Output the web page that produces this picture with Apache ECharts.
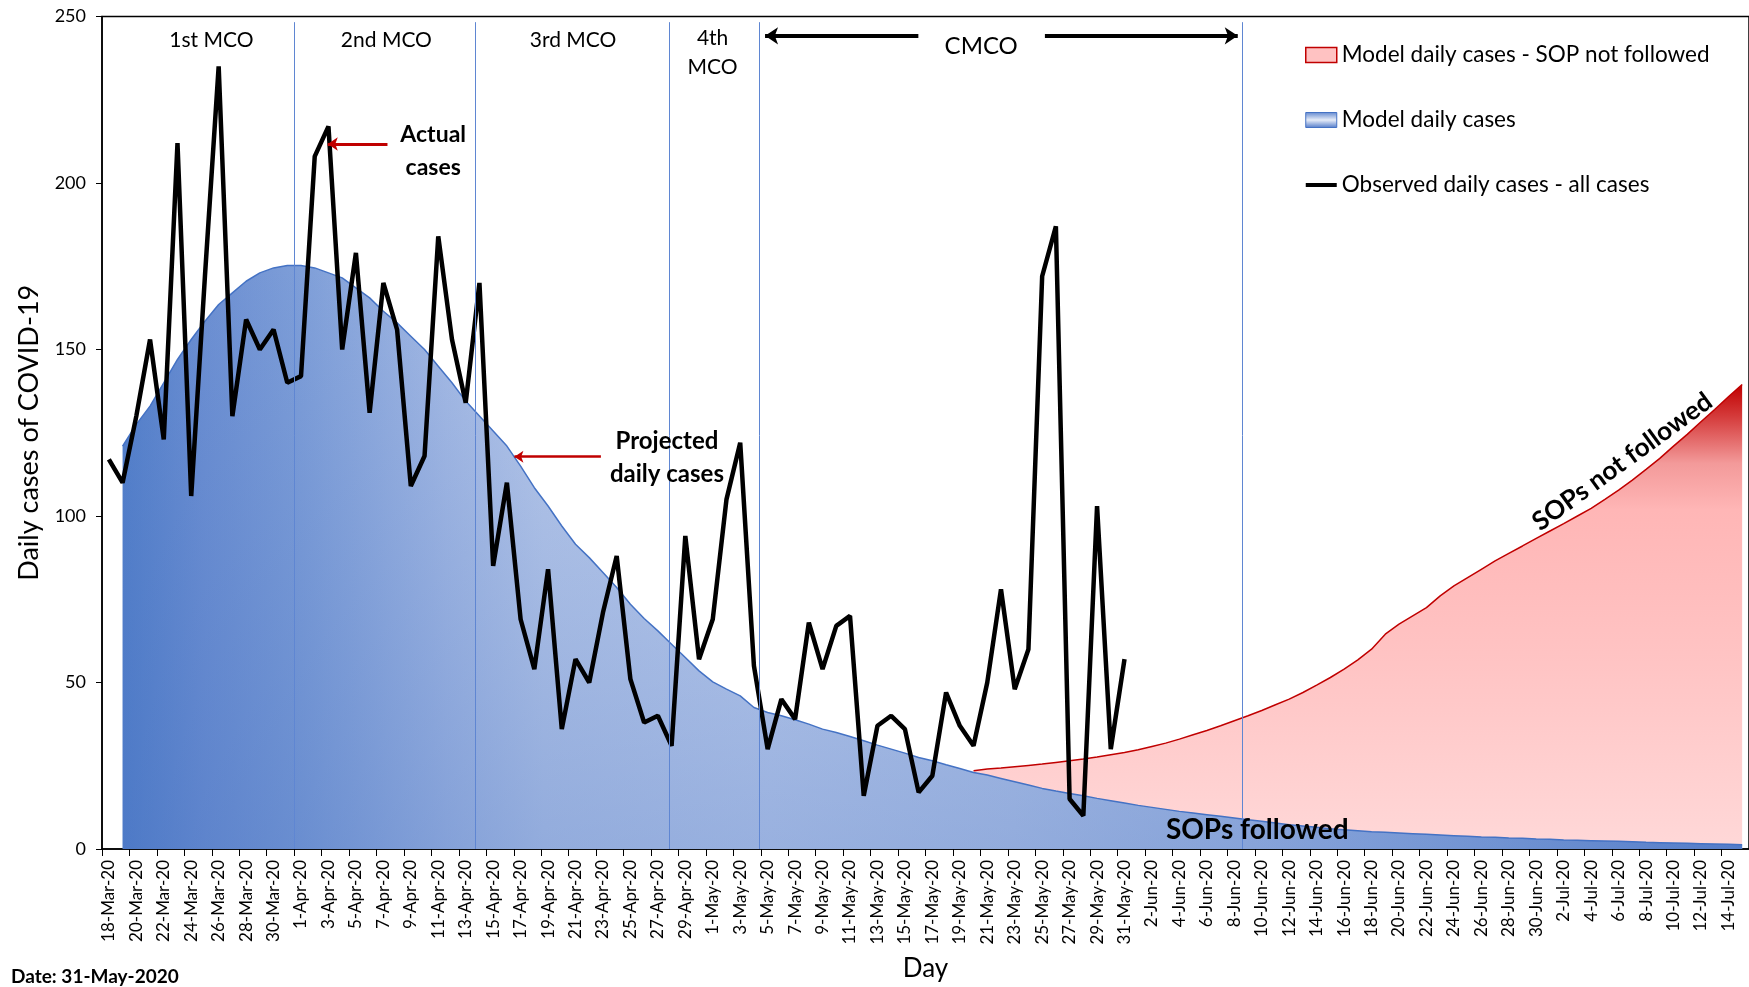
<!DOCTYPE html>
<html>
<head>
<meta charset="utf-8">
<title>Daily cases of COVID-19</title>
<script src="https://cdn.jsdelivr.net/npm/echarts@6/dist/echarts.min.js"></script>
<style>
    html, body { margin: 0; padding: 0; background: #fff; }
    #chart { width: 1749px; height: 987px; }
</style>
</head>
<body>
<div id="chart"></div>
<script>
// one category per day
var days = [
    '18-Mar-20', '19-Mar-20', '20-Mar-20', '21-Mar-20', '22-Mar-20', '23-Mar-20', '24-Mar-20', '25-Mar-20', '26-Mar-20', '27-Mar-20',
    '28-Mar-20', '29-Mar-20', '30-Mar-20', '31-Mar-20',
    '1-Apr-20', '2-Apr-20', '3-Apr-20', '4-Apr-20', '5-Apr-20', '6-Apr-20', '7-Apr-20', '8-Apr-20', '9-Apr-20', '10-Apr-20',
    '11-Apr-20', '12-Apr-20', '13-Apr-20', '14-Apr-20', '15-Apr-20', '16-Apr-20', '17-Apr-20', '18-Apr-20', '19-Apr-20', '20-Apr-20',
    '21-Apr-20', '22-Apr-20', '23-Apr-20', '24-Apr-20', '25-Apr-20', '26-Apr-20', '27-Apr-20', '28-Apr-20', '29-Apr-20', '30-Apr-20',
    '1-May-20', '2-May-20', '3-May-20', '4-May-20', '5-May-20', '6-May-20', '7-May-20', '8-May-20', '9-May-20', '10-May-20',
    '11-May-20', '12-May-20', '13-May-20', '14-May-20', '15-May-20', '16-May-20', '17-May-20', '18-May-20', '19-May-20', '20-May-20',
    '21-May-20', '22-May-20', '23-May-20', '24-May-20', '25-May-20', '26-May-20', '27-May-20', '28-May-20', '29-May-20', '30-May-20',
    '31-May-20',
    '1-Jun-20', '2-Jun-20', '3-Jun-20', '4-Jun-20', '5-Jun-20', '6-Jun-20', '7-Jun-20', '8-Jun-20', '9-Jun-20', '10-Jun-20',
    '11-Jun-20', '12-Jun-20', '13-Jun-20', '14-Jun-20', '15-Jun-20', '16-Jun-20', '17-Jun-20', '18-Jun-20', '19-Jun-20', '20-Jun-20',
    '21-Jun-20', '22-Jun-20', '23-Jun-20', '24-Jun-20', '25-Jun-20', '26-Jun-20', '27-Jun-20', '28-Jun-20', '29-Jun-20', '30-Jun-20',
    '1-Jul-20', '2-Jul-20', '3-Jul-20', '4-Jul-20', '5-Jul-20', '6-Jul-20', '7-Jul-20', '8-Jul-20', '9-Jul-20', '10-Jul-20',
    '11-Jul-20', '12-Jul-20', '13-Jul-20', '14-Jul-20', '15-Jul-20'
];

// observed daily cases, from 18-Mar-20
var observed = [
    117, 110, 130, 153, 123, 212, 106, 172, 235, 130, 159, 150, 156, 140,
    142, 208, 217, 150, 179, 131, 170, 156, 109, 118, 184, 153, 134, 170, 85, 110,
    69, 54, 84, 36, 57, 50, 71, 88, 51, 38, 40, 31, 94, 57,
    69, 105, 122, 55, 30, 45, 39, 68, 54, 67, 70, 16, 37, 40, 36, 17,
    22, 47, 37, 31, 50, 78, 48, 60, 172, 187, 15, 10, 103, 30, 57
];

// model daily cases (SOPs followed), from 19-Mar-20
var modelStart = '19-Mar-20';
var modelDaily = [
    121, 127.5, 133, 140, 147, 153, 158.5, 163.5, 167, 170.5,
    173, 174.5, 175.2, 175.2, 174.5, 173, 171.5, 168.5, 165.5, 161.5,
    158, 154, 150, 145, 140, 134.5, 130, 125.5, 121, 115,
    108.5, 103, 97, 91.5, 87.5, 83, 78.5, 73.5, 69.2, 65.5,
    61.5, 57.5, 53.5, 50.2, 48, 46, 42.5, 41, 40, 38.8,
    37.5, 36, 35, 33.8, 32.5, 31.2, 30, 28.8, 27.5, 26.5,
    25.3, 24.2, 23, 22.2, 21.2, 20.2, 19.2, 18.2, 17.4, 16.7,
    16, 15.2, 14.5, 13.8, 13.1, 12.5, 11.9, 11.3, 10.8, 10.3,
    9.8, 9.3, 8.8, 8.3, 7.8, 7.3, 6.9, 6.5, 6.1, 5.8,
    5.5, 5.2, 5.0, 4.8, 4.6, 4.4, 4.2, 4.0, 3.8, 3.6,
    3.5, 3.3, 3.2, 3.0, 2.9, 2.7, 2.6, 2.5, 2.4, 2.3,
    2.2, 2.0, 1.9, 1.8, 1.7, 1.6, 1.5, 1.4, 1.3
];

// model daily cases if SOPs are not followed, from 20-May-20
var notFollowedStart = '20-May-20';
var notFollowedDaily = [
    23.5, 24, 24.3, 24.7, 25.1, 25.5, 26, 26.5, 27, 27.6,
    28.3, 29, 29.8, 30.8, 31.8, 33, 34.3, 35.6, 37, 38.5,
    40, 41.6, 43.3, 45, 47, 49.2, 51.5, 54, 56.8, 60,
    64.5, 67.5, 70, 72.5, 76, 79, 81.5, 84, 86.5, 88.8,
    91, 93.3, 95.5, 97.7, 100, 102.3, 105, 107.8, 110.8, 114,
    117.3, 121, 124.5, 128.3, 132, 135.8, 139.5
];

var yTicks = [0, 50, 100, 150, 200, 250];

// phase boundaries, in days from the left edge of the axis
var phaseBounds = [14.04, 27.22, 41.33, 47.88, 83.07];

var FONT = 'Lato';

function alignTo(start, values) {
    var out = [];
    var i0 = days.indexOf(start);
    for (var i = 0; i < days.length; i++) {
        var k = i - i0;
        out.push(k >= 0 && k < values.length ? values[k] : null);
    }
    return out;
}

var chart = echarts.init(document.getElementById('chart'));

var dayWidth = 13.8;
var blueFill = new echarts.graphic.LinearGradient(0, 0, 1, 0, [
    {offset: 0, color: '#5480CA'},
    {offset: 0.05, color: '#6C8FD2'},
    {offset: 0.11, color: '#7E9ED8'},
    {offset: 0.2, color: '#A5BAE4'},
    {offset: 0.26, color: '#BACAEA'},
    {offset: 0.4, color: '#C3D1EE'},
    {offset: 0.55, color: '#BACAEA'},
    {offset: 0.7, color: '#A9BDE5'},
    {offset: 0.85, color: '#88A5DB'},
    {offset: 1, color: '#5D84CD'}
]);
var blueShade = new echarts.graphic.LinearGradient(0, 0, 0, 1, [
    {offset: 0, color: 'rgba(63,108,192,0)'},
    {offset: 1, color: 'rgba(63,108,192,0.32)'}
]);
var redFill = new echarts.graphic.LinearGradient(0, 0, 0, 1, [
    {offset: 0, color: '#C00000'},
    {offset: 0.07, color: '#D53C3C'},
    {offset: 0.17, color: '#F39A9A'},
    {offset: 0.27, color: '#FFB6B6'},
    {offset: 0.6, color: '#FFC4C4'},
    {offset: 1, color: '#FFD8D8'}
]);

var markLines = phaseBounds.map(function (d) {
    return [
        {coord: [d, 0], symbol: 'none', lineStyle: {color: '#5F86D2', width: 1, type: 'solid'}},
        {coord: [d, 248.3], symbol: 'none'}
    ];
});
// annotation arrows
var arrows = [
    {from: [20.8, 211.7], to: [16.45, 211.7], color: '#C00000', width: 3, head: 10},
    {from: [36.35, 117.8], to: [30.05, 117.8], color: '#C00000', width: 2.5, head: 9},
    {from: [59.48, 244.2], to: [48.31, 244.2], color: '#000', width: 4, head: 13},
    {from: [68.7, 244.2], to: [82.75, 244.2], color: '#000', width: 4, head: 13}
];
arrows.forEach(function (a) {
    markLines.push([
        {coord: a.from, symbol: 'none', lineStyle: {color: a.color, width: a.width, type: 'solid'}},
        {coord: a.to, symbol: 'arrow', symbolSize: a.head}
    ]);
});

var option = {
    animation: false,
    backgroundColor: '#fff',
    textStyle: {fontFamily: FONT, color: '#000'},
    grid: {
        left: 102,
        top: 16.5,
        width: dayWidth * days.length,
        height: 834.5,
        show: true,
        borderColor: '#000',
        borderWidth: 1.5,
        backgroundColor: 'transparent'
    },
    legend: {
        orient: 'vertical',
        left: 1300,
        top: 38.5,
        itemWidth: 31,
        itemHeight: 15,
        itemGap: 42,
        selectedMode: false,
        textStyle: {fontFamily: FONT, fontSize: 22.5, color: '#000'},
        data: [
            {
                name: 'Model daily cases - SOP not followed',
                icon: 'rect',
                itemStyle: {color: '#FFC2C2', borderColor: '#C00000', borderWidth: 1.5}
            },
            {
                name: 'Model daily cases',
                icon: 'rect',
                itemStyle: {
                    color: new echarts.graphic.LinearGradient(0, 0, 0, 1, [
                        {offset: 0, color: '#5F86CE'},
                        {offset: 0.5, color: '#E6ECF8'},
                        {offset: 1, color: '#5079C8'}
                    ]),
                    borderColor: '#4472C4',
                    borderWidth: 1
                }
            },
            {
                name: 'Observed daily cases - all cases',
                icon: 'path://M0,0L31,0L31,4L0,4Z',
                itemStyle: {color: '#000', borderWidth: 0}
            }
        ]
    },
    xAxis: [{
        type: 'category',
        data: days,
        boundaryGap: true,
        name: 'Day',
        nameLocation: 'middle',
        nameGap: 107,
        nameTextStyle: {fontFamily: FONT, fontSize: 26, color: '#000'},
        axisLine: {show: true, lineStyle: {color: '#000', width: 1.5}},
        axisTick: {show: true, interval: 1, length: 7, lineStyle: {color: '#000', width: 1}},
        axisLabel: {
            interval: 1,
            rotate: 90,
            margin: 11,
            hideOverlap: false,
            fontFamily: FONT,
            fontSize: 17,
            color: '#000'
        },
        splitLine: {show: false}
    }, {
        // helper axis for annotations (days from the left edge)
        type: 'value',
        min: 0,
        max: days.length,
        show: false
    }],
    yAxis: {
        type: 'value',
        min: yTicks[0],
        max: yTicks[yTicks.length - 1],
        interval: 50,
        name: 'Daily cases of COVID-19',
        nameLocation: 'middle',
        nameGap: 59,
        nameTextStyle: {fontFamily: FONT, fontSize: 27, color: '#000'},
        axisLine: {show: true, lineStyle: {color: '#000', width: 1.5}},
        axisTick: {show: true, length: 6, lineStyle: {color: '#000', width: 1}},
        axisLabel: {margin: 16, fontFamily: FONT, fontSize: 18, color: '#000'},
        splitLine: {show: false}
    },
    series: [
        {
            name: 'Model daily cases - SOP not followed',
            type: 'line',
            data: alignTo(notFollowedStart, notFollowedDaily),
            symbol: 'none',
            z: 1,
            itemStyle: {color: '#C00000'},
            lineStyle: {color: '#C00000', width: 1.5},
            areaStyle: {color: redFill, opacity: 1}
        },
        {
            name: 'Model daily cases',
            type: 'line',
            data: alignTo(modelStart, modelDaily),
            symbol: 'none',
            z: 2,
            itemStyle: {color: '#4472C4'},
            lineStyle: {color: '#4472C4', width: 1.5},
            areaStyle: {color: blueFill, opacity: 1}
        },
        {
            name: 'shade',
            type: 'line',
            data: alignTo(modelStart, modelDaily),
            symbol: 'none',
            silent: true,
            z: 2,
            lineStyle: {width: 0},
            areaStyle: {color: blueShade, opacity: 1}
        },
        {
            name: 'phases',
            type: 'line',
            xAxisIndex: 1,
            data: [],
            z: 3,
            silent: true,
            markLine: {
                silent: true,
                animation: false,
                symbol: 'none',
                label: {show: false},
                data: markLines
            }
        },
        {
            name: 'Observed daily cases - all cases',
            type: 'line',
            data: observed,
            symbol: 'none',
            z: 4,
            itemStyle: {color: '#000'},
            lineStyle: {color: '#000', width: 4.5}
        }
    ]
};

chart.setOption(option);

// text notes placed in data units of the helper axis
var notes = [
    {text: '1st MCO', at: [7.97, 243], font: '21px ' + FONT},
    {text: '2nd MCO', at: [20.72, 243], font: '21px ' + FONT},
    {text: '3rd MCO', at: [34.32, 243], font: '21px ' + FONT},
    {text: '4th\nMCO', at: [44.49, 239.2], font: '21px ' + FONT, lineHeight: 29},
    {text: 'CMCO', at: [64.06, 241.2], font: '24px ' + FONT},
    {text: 'Actual\ncases', at: [24.13, 209.6], font: 'bold 23px ' + FONT, lineHeight: 33},
    {text: 'Projected\ndaily cases', at: [41.16, 117.6], font: 'bold 24px ' + FONT, lineHeight: 33},
    {text: 'SOPs followed', at: [84.17, 5.7], font: 'bold 28px ' + FONT},
    {text: 'SOPs not followed', at: [110.77, 116.3], font: 'bold 26px ' + FONT, rotate: 36}
];

function drawNotes() {
    var g = [];
    notes.forEach(function (n) {
        var x = chart.convertToPixel({xAxisIndex: 1}, n.at[0]);
        var y = chart.convertToPixel({yAxisIndex: 0}, n.at[1]);
        g.push({
            type: 'text',
            x: x,
            y: y,
            rotation: (n.rotate || 0) * Math.PI / 180,
            z: 50,
            silent: true,
            style: {
                text: n.text,
                font: n.font,
                fill: '#000',
                align: 'center',
                verticalAlign: 'middle',
                textAlign: 'center',
                textVerticalAlign: 'middle',
                lineHeight: n.lineHeight || null
            }
        });
    });
    g.push({
        type: 'text',
        left: 11,
        top: 967,
        silent: true,
        style: {text: 'Date: 31-May-2020', font: 'bold 19px ' + FONT, fill: '#000'}
    });
    chart.setOption({graphic: g});
}
drawNotes();
</script>
</body>
</html>
